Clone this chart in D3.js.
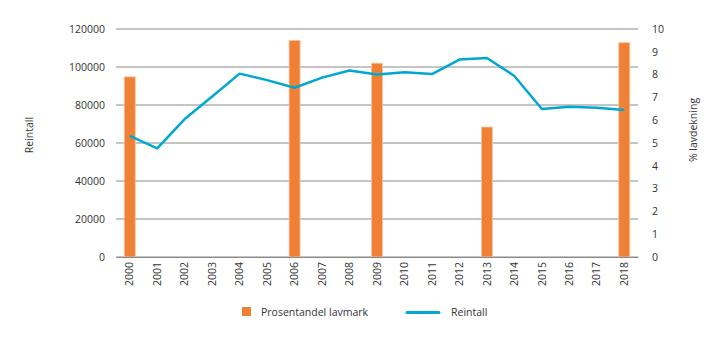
<!DOCTYPE html>
<html>
<head>
<meta charset="utf-8">
<script src="https://cdn.jsdelivr.net/npm/d3@7"></script>
<style>
  html, body { margin: 0; padding: 0; background: #fff; }
  svg text { font-family: "Open Sans", "Noto Sans", sans-serif; fill: #333; }
</style>
</head>
<body>
<svg id="chart" width="720" height="341"></svg>
<script>
// Years on the x axis
const years = ["2000","2001","2002","2003","2004","2005","2006","2007","2008","2009",
               "2010","2011","2012","2013","2014","2015","2016","2017","2018"];
// Reindeer count per year (left axis)
const reintall = [63800, 57200, 72600, 84500, 96500, 93100, 89100, 94400, 98200, 96100,
                  97200, 96300, 103900, 104700, 95300, 77900, 79100, 78600, 77400];
// Lichen cover in percent, only measured some years (right axis)
const lavYears = ["2000", "2006", "2009", "2013", "2018"];
const lavmark = [7.9, 9.5, 8.5, 5.7, 9.4];
// Tick labels
const leftTicks = [0, 20000, 40000, 60000, 80000, 100000, 120000];
const rightTicks = [0, 1, 2, 3, 4, 5, 6, 7, 8, 9, 10];

const svg = d3.select("#chart");
const m = { left: 116, right: 638, top: 29, bottom: 257 };

const x = d3.scaleBand().domain(years).range([m.left, m.right]).paddingInner(0.6).paddingOuter(0.3);
const xc = d => x(d) + x.bandwidth() / 2;
const yL = d3.scaleLinear().domain([0, 120000]).range([m.bottom, m.top]);
const yR = d3.scaleLinear().domain([0, 10]).range([m.bottom, m.top]);

// Gridlines at the left-axis ticks
svg.append("g").selectAll("line").data(leftTicks).join("line")
  .attr("x1", m.left).attr("x2", m.right)
  .attr("y1", d => yL(d)).attr("y2", d => yL(d))
  .attr("stroke", "#8a8a8a").attr("stroke-width", 1);

// Left axis
const axL = svg.append("g").attr("transform", `translate(${m.left},0)`)
  .call(d3.axisLeft(yL).tickValues(leftTicks).tickSize(0).tickPadding(11).tickFormat(d3.format("d")));
axL.select(".domain").remove();
axL.selectAll("text").attr("font-size", "10.5px").style("font-family", "'Open Sans', sans-serif").attr("fill", "#333");

// Right axis
const axR = svg.append("g").attr("transform", `translate(${m.right},0)`)
  .call(d3.axisRight(yR).tickValues(rightTicks).tickSize(0).tickPadding(14).tickFormat(d3.format("d")));
axR.select(".domain").remove();
axR.selectAll("text").attr("font-size", "10.5px").style("font-family", "'Open Sans', sans-serif").attr("fill", "#333");

// Bars: lichen percentage
svg.append("g").selectAll("rect").data(lavYears.map((y, i) => ({ y, v: lavmark[i] }))).join("rect")
  .attr("x", d => x(d.y)).attr("width", x.bandwidth())
  .attr("y", d => yR(d.v)).attr("height", d => yR(0) - yR(d.v))
  .attr("fill", "#f08035").attr("stroke", "#f8c4a0").attr("stroke-width", 0.8);

// Bottom axis with rotated year labels
const axB = svg.append("g").attr("transform", `translate(0,${m.bottom})`)
  .call(d3.axisBottom(x).tickSize(0).tickPadding(0));
axB.select(".domain").attr("stroke", "#8a8a8a");
axB.selectAll("text")
  .attr("font-size", "10.5px").style("font-family", "'Open Sans', sans-serif").attr("fill", "#333")
  .attr("transform", "rotate(-90)")
  .attr("text-anchor", "end").attr("x", -5).attr("y", 0).attr("dy", "0.35em");

// Line: reindeer count
const line = d3.line().x((d, i) => xc(years[i])).y(d => yL(d));
svg.append("path").datum(reintall)
  .attr("d", line).attr("fill", "none")
  .attr("stroke", "#00a8d1").attr("stroke-width", 2.5).attr("stroke-linejoin", "round");

// Axis titles
svg.append("text").attr("transform", "translate(33,135) rotate(-90)")
  .attr("text-anchor", "middle").attr("font-size", "10.5px").text("Reintall");
svg.append("text").attr("transform", "translate(697,130) rotate(-90)")
  .attr("text-anchor", "middle").attr("font-size", "10.5px").text("% lavdekning");

// Legend
const lg = svg.append("g");
lg.append("rect").attr("x", 242).attr("y", 307).attr("width", 9).attr("height", 9).attr("fill", "#f08035");
lg.append("text").attr("x", 261).attr("y", 315.5).attr("font-size", "10.5px").text("Prosentandel lavmark");
lg.append("line").attr("x1", 407).attr("x2", 439).attr("y1", 312.5).attr("y2", 312.5)
  .attr("stroke", "#00a8d1").attr("stroke-width", 3).attr("stroke-linecap", "round");
lg.append("text").attr("x", 451).attr("y", 315.5).attr("font-size", "10.5px").text("Reintall");
</script>
</body>
</html>
